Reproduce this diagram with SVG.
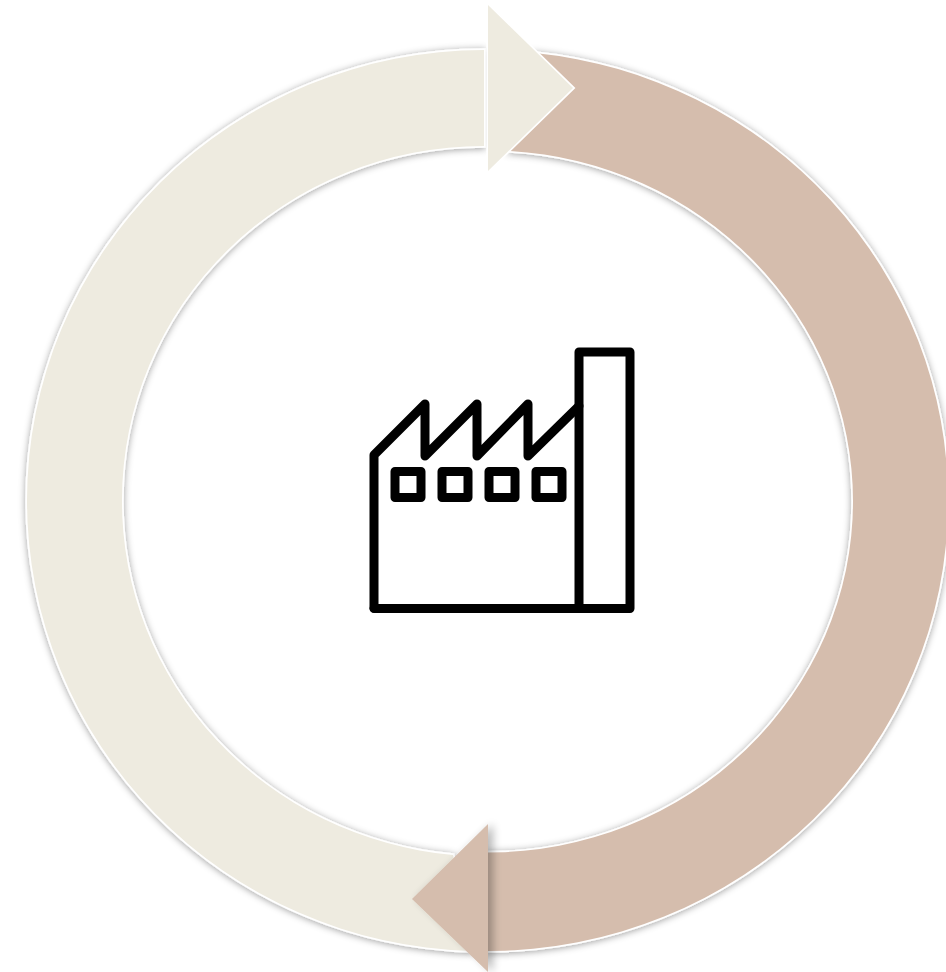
<svg xmlns="http://www.w3.org/2000/svg" width="946" height="972" viewBox="0 0 946 972">
  <defs>
    <filter id="sh" x="-10%" y="-10%" width="120%" height="120%">
      <feDropShadow dx="0" dy="1" stdDeviation="3.5" flood-color="#000" flood-opacity="0.38"/>
    </filter>
    <filter id="shr" x="-30%" y="-10%" width="170%" height="120%">
      <feOffset in="SourceAlpha" dx="5" dy="0"/>
      <feGaussianBlur stdDeviation="4"/>
      <feComponentTransfer><feFuncA type="linear" slope="0.28"/></feComponentTransfer>
      <feMerge><feMergeNode/><feMergeNode in="SourceGraphic"/></feMerge>
    </filter>
  </defs>
  <style>
    .beige{fill:#EEEBE0}
    .brown{fill:#D5BDAD}
    .edge{stroke:#fff;stroke-width:3.4;stroke-linejoin:miter;paint-order:stroke}
    .icon{fill:none;stroke:#000;stroke-width:9;stroke-linejoin:round;stroke-linecap:round}
  </style>
  <rect width="946" height="972" fill="#fff"/>
  <g id="connectors">
    <g id="arc-brown">
      <path class="brown edge" filter="url(#sh)" d="M535 53 A461 449 0 0 1 948 502 A461 449 0 0 1 488 951 L488 852.5 A365.5 351 0 0 0 853 501.5 A365.5 351 0 0 0 510 151 L573 88 Z"/>
    </g>
    <g id="arc-beige">
      <path class="beige edge" filter="url(#sh)" d="M484 50 A458 450.5 0 0 0 27 500.5 A457 450.5 0 0 0 470 951 L453 855 A365 355 0 0 1 122 500 A362 354 0 0 1 484 146 Z"/>
    </g>
    <g id="head-beige">
      <path class="beige edge" d="M488 5 L573 88 L488 171 Z"/>
    </g>
    <g id="head-brown">
      <path class="brown" filter="url(#shr)" d="M488 824 L412 899 L488 972 Z"/>
    </g>
  </g>
  <g id="factory">
    <path class="icon" d="M374 608 V455 L425 404 V456 L477 404 V456 L528 404 V456 L579 406"/>
    <rect class="icon" x="579" y="352" width="51" height="256.5"/>
    <path class="icon" d="M374 608.5 H579"/>
    <rect class="icon" x="395" y="471.5" width="26" height="26"/>
    <rect class="icon" x="442" y="471.5" width="26" height="26"/>
    <rect class="icon" x="489" y="471.5" width="26" height="26"/>
    <rect class="icon" x="536" y="471.5" width="26" height="26"/>
  </g>
</svg>
